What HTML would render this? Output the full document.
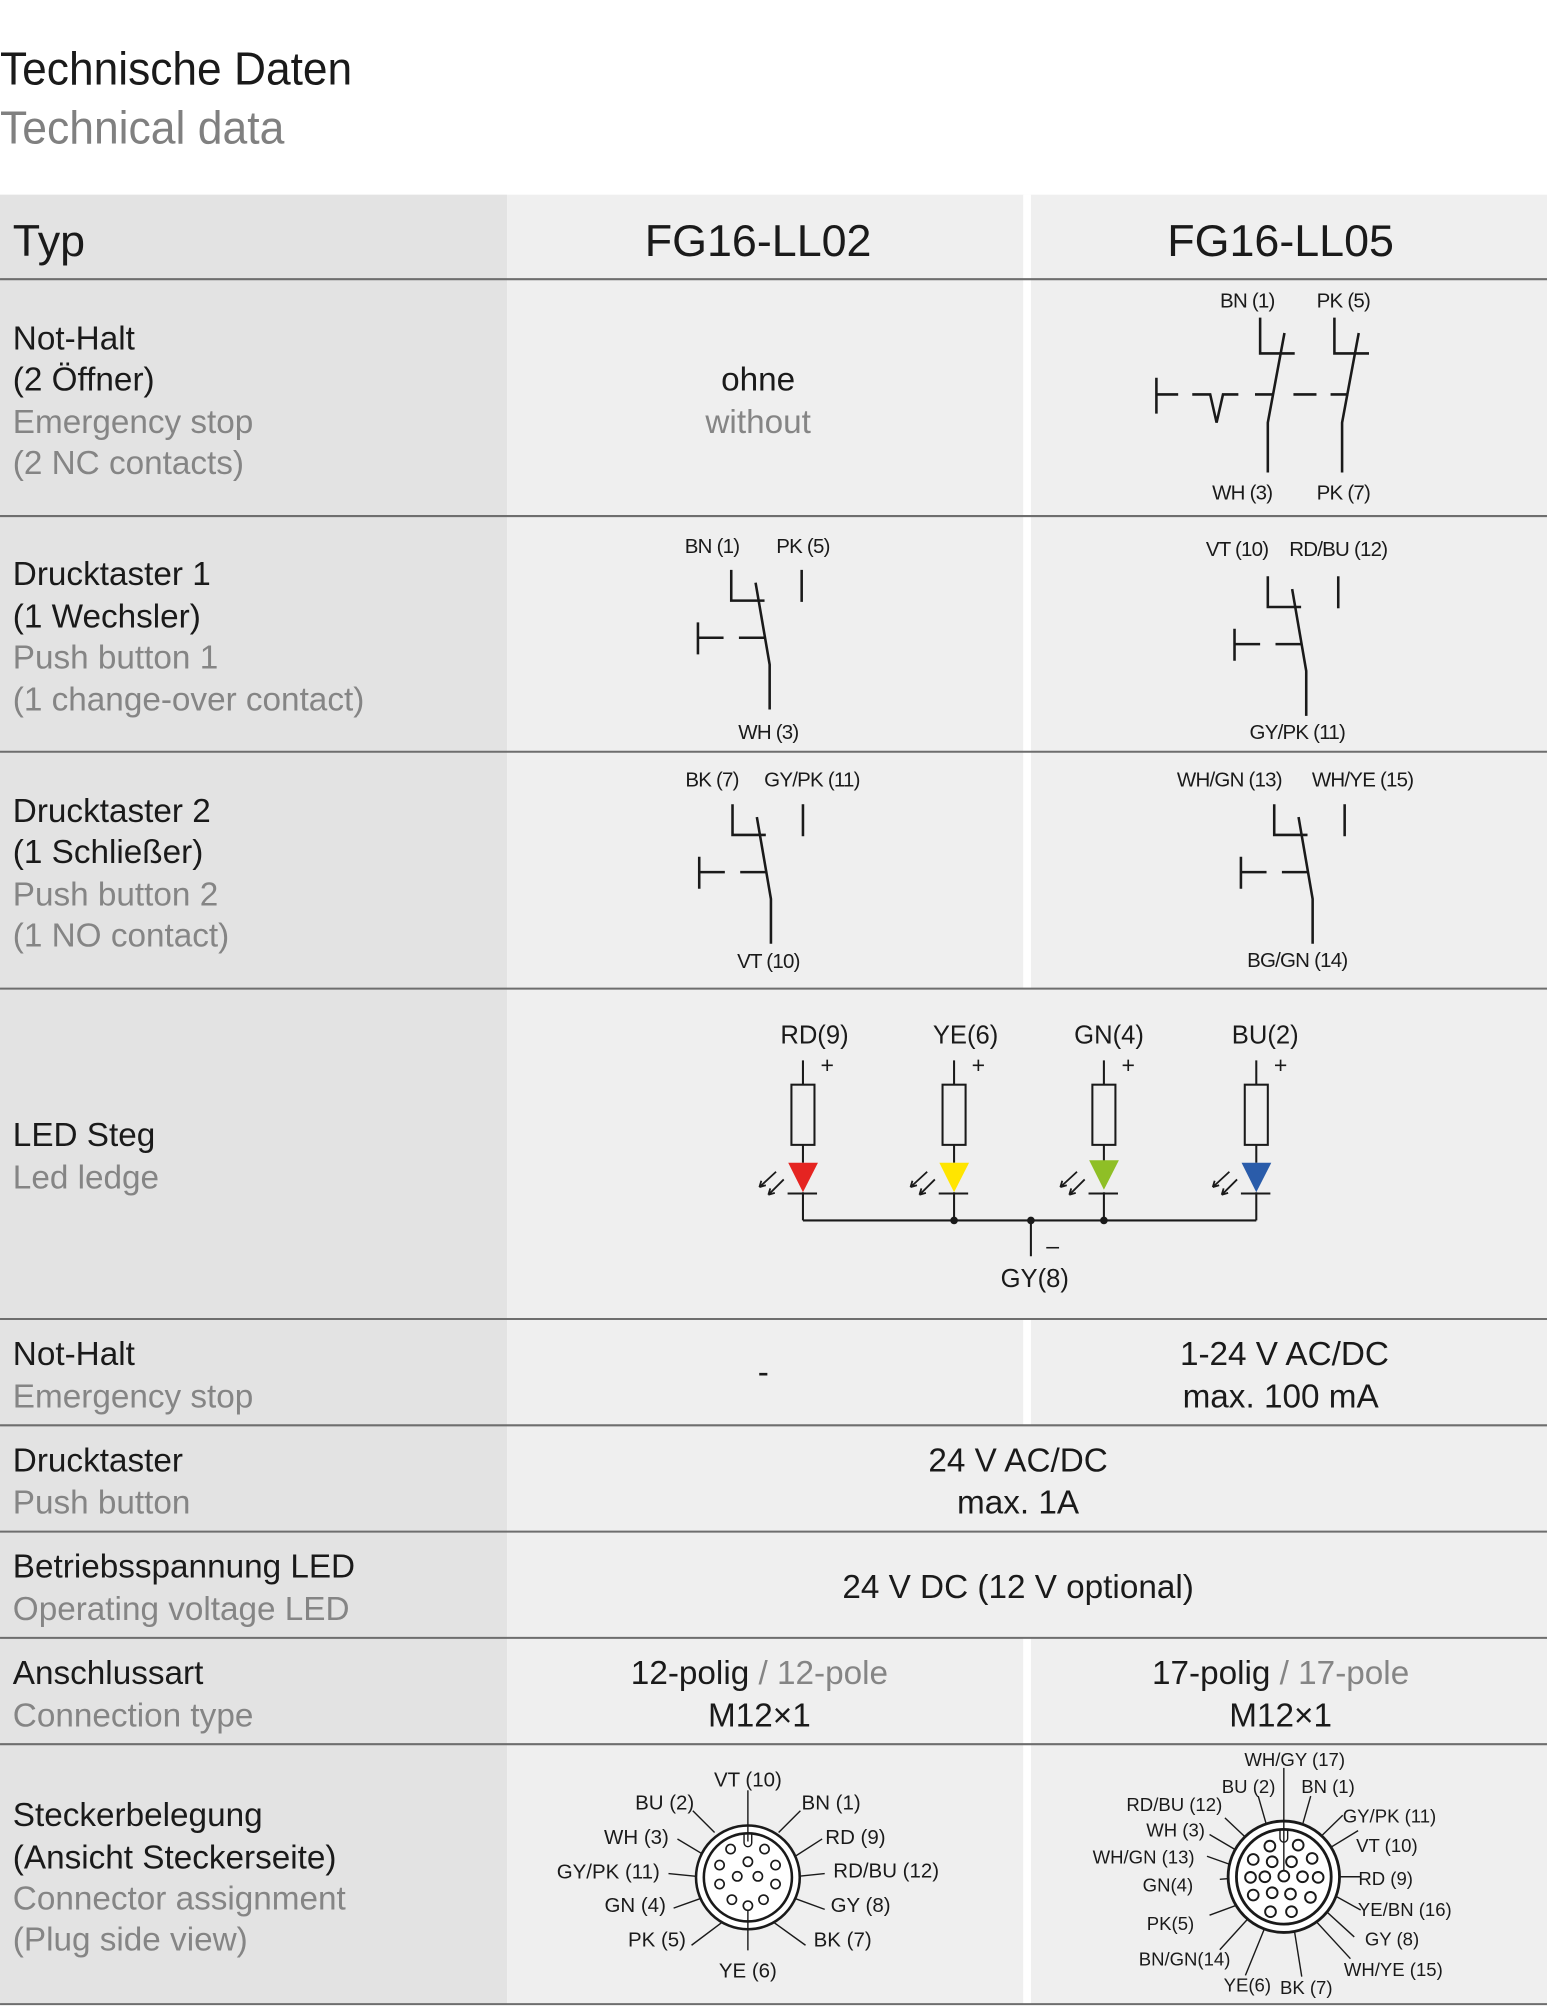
<!DOCTYPE html>
<html><head><meta charset="utf-8"><style>
html,body{margin:0;padding:0;background:#fff;}
svg{display:block;}
text{font-family:"Liberation Sans",sans-serif;}
.b{fill:#1a1a1a;font-size:26px;}
.g{fill:#858585;font-size:26px;}
.s{fill:#1a1a1a;font-size:16px;letter-spacing:-0.6px;}
.l{fill:#1a1a1a;font-size:20px;}
.c{fill:#1a1a1a;font-size:16px;}
.ln{stroke:#1a1a1a;stroke-width:2;fill:none;}
.ct{stroke:#1a1a1a;stroke-width:1.1;fill:none;}
</style></head><body>
<svg width="1547" height="2008" viewBox="0 0 1208 1568" xmlns="http://www.w3.org/2000/svg">
<rect x="0" y="0" width="1208" height="1568" fill="#fff"/>
<rect x="0" y="152" width="396" height="1413" fill="#e3e3e3"/>
<rect x="396" y="152" width="812" height="1413" fill="#efefef"/>
<rect x="799" y="152" width="6" height="620" fill="#fff"/>
<rect x="799" y="1030" width="6" height="83" fill="#fff"/>
<rect x="799" y="1279" width="6" height="286" fill="#fff"/>
<g stroke="#6e6e6e" stroke-width="1.6">
<line x1="0" y1="218" x2="1208" y2="218"/>
<line x1="0" y1="403" x2="1208" y2="403"/>
<line x1="0" y1="587" x2="1208" y2="587"/>
<line x1="0" y1="772" x2="1208" y2="772"/>
<line x1="0" y1="1030" x2="1208" y2="1030"/>
<line x1="0" y1="1113" x2="1208" y2="1113"/>
<line x1="0" y1="1196" x2="1208" y2="1196"/>
<line x1="0" y1="1279" x2="1208" y2="1279"/>
<line x1="0" y1="1362" x2="1208" y2="1362"/>
<line x1="0" y1="1565" x2="1208" y2="1565"/>
</g>

<text x="0" y="66" style="font-size:36px;fill:#1a1a1a" textLength="275" lengthAdjust="spacingAndGlyphs">Technische Daten</text>
<text x="0" y="112" style="font-size:36px;fill:#808080" textLength="222" lengthAdjust="spacingAndGlyphs">Technical data</text>

<text x="10" y="200" style="font-size:35px;fill:#1a1a1a">Typ</text>
<text x="592" y="200" text-anchor="middle" style="font-size:35px;fill:#1a1a1a">FG16-LL02</text>
<text x="1000" y="200" text-anchor="middle" style="font-size:35px;fill:#1a1a1a">FG16-LL05</text>

<text x="10" y="273" class="b">Not-Halt</text>
<text x="10" y="305" class="b">(2 Öffner)</text>
<text x="10" y="338" class="g">Emergency stop</text>
<text x="10" y="370" class="g">(2 NC contacts)</text>
<text x="592" y="305" class="b" text-anchor="middle">ohne</text>
<text x="592" y="338" class="g" text-anchor="middle">without</text>

<text x="10" y="457" class="b">Drucktaster 1</text>
<text x="10" y="490" class="b">(1 Wechsler)</text>
<text x="10" y="522" class="g">Push button 1</text>
<text x="10" y="555" class="g">(1 change-over contact)</text>

<text x="10" y="642" class="b">Drucktaster 2</text>
<text x="10" y="674" class="b">(1 Schließer)</text>
<text x="10" y="707" class="g">Push button 2</text>
<text x="10" y="739" class="g">(1 NO contact)</text>

<text x="10" y="895" class="b">LED Steg</text>
<text x="10" y="928" class="g">Led ledge</text>

<text x="10" y="1066" class="b">Not-Halt</text>
<text x="10" y="1099" class="g">Emergency stop</text>
<text x="596" y="1080" class="b" text-anchor="middle">-</text>
<text x="1003" y="1066" class="b" text-anchor="middle">1-24 V AC/DC</text>
<text x="1000" y="1099" class="b" text-anchor="middle">max. 100 mA</text>

<text x="10" y="1149" class="b">Drucktaster</text>
<text x="10" y="1182" class="g">Push button</text>
<text x="795" y="1149" class="b" text-anchor="middle">24 V AC/DC</text>
<text x="795" y="1182" class="b" text-anchor="middle">max. 1A</text>

<text x="10" y="1232" class="b">Betriebsspannung LED</text>
<text x="10" y="1265" class="g">Operating voltage LED</text>
<text x="795" y="1248" class="b" text-anchor="middle">24 V DC (12 V optional)</text>

<text x="10" y="1315" class="b">Anschlussart</text>
<text x="10" y="1348" class="g">Connection type</text>
<text x="593" y="1315" class="b" text-anchor="middle">12-polig <tspan fill="#858585">/ 12-pole</tspan></text>
<text x="593" y="1348" class="b" text-anchor="middle">M12×1</text>
<text x="1000" y="1315" class="b" text-anchor="middle">17-polig <tspan fill="#858585">/ 17-pole</tspan></text>
<text x="1000" y="1348" class="b" text-anchor="middle">M12×1</text>

<text x="10" y="1426" class="b">Steckerbelegung</text>
<text x="10" y="1459" class="b">(Ansicht Steckerseite)</text>
<text x="10" y="1491" class="g">Connector assignment</text>
<text x="10" y="1523" class="g">(Plug side view)</text>

<g class="ln">
<path d="M903 295V323M903 308H920M931 308H945L950 330L955 308H967M980 308H994M1010 308H1028M1039 308H1053"/>
<path d="M984 248V276H1011M1003 260L990 330V369"/>
<path d="M1042 248V276H1069M1061 260L1048 330V369"/>
</g>
<text x="974" y="240" class="s" text-anchor="middle">BN (1)</text>
<text x="1049" y="240" class="s" text-anchor="middle">PK (5)</text>
<text x="970" y="390" class="s" text-anchor="middle">WH (3)</text>
<text x="1049" y="390" class="s" text-anchor="middle">PK (7)</text>

<defs>
<g id="pb" class="ln">
<path d="M571 445V469H597M590 455L601 519V554"/>
<path d="M545 486V511M545 498H565M577 498H597"/>
<path d="M626 445V470"/>
</g>
</defs>
<use href="#pb"/>
<text x="556" y="432" class="s" text-anchor="middle">BN (1)</text>
<text x="627" y="432" class="s" text-anchor="middle">PK (5)</text>
<text x="600" y="577" class="s" text-anchor="middle">WH (3)</text>

<use href="#pb" transform="translate(419,5)"/>
<text x="966" y="434" class="s" text-anchor="middle">VT (10)</text>
<text x="1045" y="434" class="s" text-anchor="middle">RD/BU (12)</text>
<text x="1013" y="577" class="s" text-anchor="middle">GY/PK (11)</text>

<use href="#pb" transform="translate(1,183)"/>
<text x="556" y="614" class="s" text-anchor="middle">BK (7)</text>
<text x="634" y="614" class="s" text-anchor="middle">GY/PK (11)</text>
<text x="600" y="756" class="s" text-anchor="middle">VT (10)</text>

<use href="#pb" transform="translate(424,183)"/>
<text x="960" y="614" class="s" text-anchor="middle">WH/GN (13)</text>
<text x="1064" y="614" class="s" text-anchor="middle">WH/YE (15)</text>
<text x="1013" y="755" class="s" text-anchor="middle">BG/GN (14)</text>

<defs>
<g id="led">
<path d="M0 828V847M0 894V908M0 931V953" stroke="#1a1a1a" stroke-width="1.6" fill="none"/>
<rect x="-9" y="847" width="18" height="47" fill="none" stroke="#1a1a1a" stroke-width="1.6"/>
<path d="M-12 932H11" stroke="#1a1a1a" stroke-width="1.6"/>
<path d="M-21 915L-34 927M-34 927l1.5 -5M-34 927l5 -1.5M-15 921L-27 933M-27 933l1.5 -5M-27 933l5 -1.5" stroke="#1a1a1a" stroke-width="1.4" fill="none"/>
<text x="19" y="838" style="font-size:18px;fill:#1a1a1a" text-anchor="middle">+</text>
</g>
</defs>
<use href="#led" transform="translate(627,0)"/>
<use href="#led" transform="translate(745,0)"/>
<use href="#led" transform="translate(862,0)"/>
<use href="#led" transform="translate(981,0)"/>
<path d="M615.5 908H638.7L627 931Z" fill="#e52421"/>
<path d="M733.5 908H756.7L745 931Z" fill="#ffe500"/>
<path d="M850.5 906H873.7L862 929Z" fill="#8fbf26"/>
<path d="M969.5 908H992.7L981 931Z" fill="#2a5caa"/>
<path d="M627 953H981M805 953V981" stroke="#1a1a1a" stroke-width="1.6" fill="none"/>
<circle cx="745" cy="953" r="3" fill="#1a1a1a"/>
<circle cx="805" cy="953" r="3" fill="#1a1a1a"/>
<circle cx="862" cy="953" r="3" fill="#1a1a1a"/>
<text x="822" y="979" style="font-size:18px;fill:#1a1a1a" text-anchor="middle">–</text>
<text x="636" y="815" class="l" text-anchor="middle">RD(9)</text>
<text x="754" y="815" class="l" text-anchor="middle">YE(6)</text>
<text x="866" y="815" class="l" text-anchor="middle">GN(4)</text>
<text x="988" y="815" class="l" text-anchor="middle">BU(2)</text>
<text x="808" y="1005" class="l" text-anchor="middle">GY(8)</text>

<g transform="translate(584,1466)">
<g class="ct">
<line x1="-43" y1="-52" x2="-26" y2="-35"/>
<line x1="41" y1="-52" x2="24" y2="-35"/>
<line x1="-55" y1="-30" x2="-30" y2="-15"/>
<line x1="58" y1="-30" x2="30" y2="-12"/>
<line x1="-62" y1="-3" x2="-12" y2="2"/>
<line x1="60" y1="-3" x2="12" y2="2"/>
<line x1="-58" y1="24" x2="-30" y2="14"/>
<line x1="60" y1="25" x2="30" y2="14"/>
<line x1="-44" y1="53" x2="-20" y2="35"/>
<line x1="45" y1="53" x2="20" y2="35"/>
</g>
<circle r="40.5" fill="#fff" stroke="#1a1a1a" stroke-width="2"/>
<circle r="34.4" fill="#fff" stroke="#1a1a1a" stroke-width="2"/>
<path d="M-3 -34V-27A3 3 0 0 0 3 -27V-34" class="ct"/>
<g fill="#fff" stroke="#1a1a1a" stroke-width="1.3">
<circle cx="-13.5" cy="-22.1" r="3.6"/><circle cx="13" cy="-22.1" r="3.6"/>
<circle cx="-22.1" cy="-9.6" r="3.6"/><circle cx="21.6" cy="-9.6" r="3.6"/>
<circle cx="0" cy="-12.2" r="3.6"/><circle cx="-8.3" cy="-0.8" r="3.6"/>
<circle cx="7.8" cy="-0.8" r="3.6"/><circle cx="-22.1" cy="5.2" r="3.6"/>
<circle cx="21.6" cy="5.2" r="3.6"/><circle cx="-12.5" cy="17.4" r="3.6"/>
<circle cx="12.2" cy="17.4" r="3.6"/><circle cx="0" cy="22.1" r="3.6"/>
</g>
<line x1="0" y1="-68" x2="0" y2="-28" class="ct"/>
<line x1="0" y1="26" x2="0" y2="57" class="ct"/>
</g>
<g class="c" text-anchor="middle">
<text x="584" y="1395">VT (10)</text>
<text x="519" y="1413">BU (2)</text>
<text x="649" y="1413">BN (1)</text>
<text x="497" y="1440">WH (3)</text>
<text x="668" y="1440">RD (9)</text>
<text x="475" y="1467">GY/PK (11)</text>
<text x="692" y="1466">RD/BU (12)</text>
<text x="496" y="1493">GN (4)</text>
<text x="672" y="1493">GY (8)</text>
<text x="513" y="1520">PK (5)</text>
<text x="658" y="1520">BK (7)</text>
<text x="584" y="1544">YE (6)</text>
</g>

<g transform="translate(1002.5,1465.5)">
<g class="ct">
<line x1="-20" y1="-63" x2="-14" y2="-42"/>
<line x1="21" y1="-63" x2="15" y2="-42"/>
<line x1="-46" y1="-46" x2="-10" y2="-12"/>
<line x1="46" y1="-48" x2="9" y2="-12"/>
<line x1="-58" y1="-33" x2="-24" y2="-13"/>
<line x1="58" y1="-36" x2="22" y2="-14"/>
<line x1="-60" y1="-16" x2="-15" y2="0"/>
<line x1="-50" y1="2" x2="-26" y2="0"/>
<line x1="60" y1="0" x2="27" y2="0"/>
<line x1="60" y1="26" x2="15" y2="1"/>
<line x1="-58" y1="30" x2="-9" y2="12"/>
<line x1="55" y1="47" x2="21" y2="16"/>
<line x1="-50" y1="57" x2="-10" y2="13"/>
<line x1="52" y1="64" x2="6" y2="14"/>
<line x1="-30" y1="77" x2="-10" y2="28"/>
<line x1="14" y1="78" x2="6" y2="28"/>
</g>
<circle r="43.5" fill="#fff" stroke="#1a1a1a" stroke-width="2.2"/>
<circle r="37" fill="#fff" stroke="#1a1a1a" stroke-width="2.2"/>
<path d="M-3 -37V-30A3 3 0 0 0 3 -30V-37" class="ct"/>
<g fill="#fff" stroke="#1a1a1a" stroke-width="1.5">
<circle cx="-10.9" cy="-23.9" r="4.2"/><circle cx="11.2" cy="-24.7" r="4.2"/>
<circle cx="-23.9" cy="-13.5" r="4.2"/><circle cx="-9.1" cy="-11.7" r="4.2"/>
<circle cx="6" cy="-11.7" r="4.2"/><circle cx="22.1" cy="-14.3" r="4.2"/>
<circle cx="-26" cy="0.5" r="4.2"/><circle cx="-14.8" cy="0" r="4.2"/>
<circle cx="0" cy="-0.5" r="4.2"/><circle cx="14.6" cy="0" r="4.2"/>
<circle cx="26.8" cy="0.5" r="4.2"/><circle cx="-23.9" cy="14.3" r="4.2"/>
<circle cx="-9.1" cy="12.5" r="4.2"/><circle cx="5.2" cy="13.5" r="4.2"/>
<circle cx="20.8" cy="16.1" r="4.2"/><circle cx="-10.4" cy="27.3" r="4.2"/>
<circle cx="6" cy="27.3" r="4.2"/>
</g>
<line x1="0" y1="-85" x2="0" y2="-5" class="ct"/>
</g>
<g class="c" text-anchor="middle" style="font-size:14.5px">
<text x="1011" y="1379">WH/GY (17)</text>
<text x="975" y="1400">BU (2)</text>
<text x="1037" y="1400">BN (1)</text>
<text x="917" y="1414">RD/BU (12)</text>
<text x="1085" y="1423">GY/PK (11)</text>
<text x="918" y="1434">WH (3)</text>
<text x="1083" y="1446">VT (10)</text>
<text x="893" y="1455">WH/GN (13)</text>
<text x="912" y="1477">GN(4)</text>
<text x="1082" y="1472">RD (9)</text>
<text x="1097" y="1496">YE/BN (16)</text>
<text x="914" y="1507">PK(5)</text>
<text x="1087" y="1519">GY (8)</text>
<text x="925" y="1535">BN/GN(14)</text>
<text x="1088" y="1543">WH/YE (15)</text>
<text x="974" y="1555">YE(6)</text>
<text x="1020" y="1557">BK (7)</text>
</g>
</svg>
</body></html>
